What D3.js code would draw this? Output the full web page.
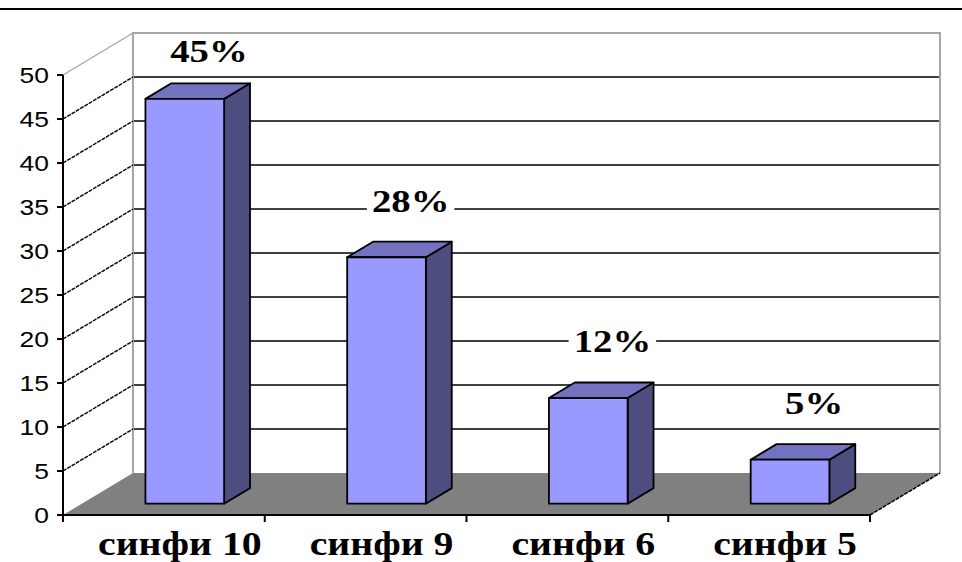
<!DOCTYPE html>
<html><head><meta charset="utf-8">
<script src="https://cdn.jsdelivr.net/npm/d3@7"></script>
<style>html,body{margin:0;padding:0;background:#fff;}svg{display:block;}</style>
</head><body>
<svg id="chart" width="962" height="562"></svg>
<script>
const categories = ["синфи 10", "синфи 9", "синфи 6", "синфи 5"];
const values = [46, 28, 12, 5];
const labelValues = [45, 28, 12, 5];
const yTicks = [0, 5, 10, 15, 20, 25, 30, 35, 40, 45, 50];

const W = 962, H = 562;
const svg = d3.select("#chart");

const y = d3.scaleLinear().domain([0, 50]).range([515, 75]);
const x = d3.scaleBand().domain(categories).range([63, 870]);
const D = {dx: 70, dy: -42};          // full depth offset
const fBar = 0.27, tBar = 0.37;       // bar front depth & thickness
const barW = x.bandwidth() * 0.39;
const barShift = 2;

const P = (px, py, f) => [px + D.dx * f, py + D.dy * f];

function fitText(stretch) {
  return sel => sel.each(function() {
    const w = this.getComputedTextLength();
    d3.select(this).attr("textLength", w * stretch).attr("lengthAdjust", "spacingAndGlyphs");
  });
}

// top border line
svg.append("line").attr("x1", 0).attr("x2", W).attr("y1", 9).attr("y2", 9)
  .attr("stroke", "#000").attr("stroke-width", 2);

const x0 = x.range()[0], x1 = x.range()[1];

// back wall gridlines
const back = svg.append("g");
yTicks.filter(t => t > 0 && t < 50).forEach(t => {
  const a = P(x0, y(t), 1), b = P(x1, y(t), 1);
  back.append("line").attr("x1", a[0]).attr("x2", b[0]).attr("y1", a[1]).attr("y2", b[1])
    .attr("stroke", "#000").attr("stroke-width", 1.6);
});
// back wall borders (grey)
{
  const tl = P(x0, y(50), 1), tr = P(x1, y(50), 1), bl = P(x0, y(0), 1), br = P(x1, y(0), 1);
  back.append("path").attr("d", `M${bl}L${tl}L${tr}L${br}`).attr("fill", "none")
    .attr("stroke", "#a6a6a6").attr("stroke-width", 2);
}
// left wall diagonals
yTicks.filter(t => t > 0).forEach(t => {
  const a = [x0, y(t)], b = P(x0, y(t), 1);
  back.append("line").attr("x1", a[0]).attr("x2", b[0]).attr("y1", a[1]).attr("y2", b[1])
    .attr("stroke", t === 50 ? "#a6a6a6" : "#000").attr("stroke-width", 1.4)
    .attr("stroke-dasharray", t === 50 ? null : "4,1");
});

// floor
{
  const fl = [x0, y(0)], fr = [x1, y(0)], bl = P(x0, y(0), 1), br = P(x1, y(0), 1);
  svg.append("path").attr("d", `M${fl}L${fr}L${br}L${bl}Z`).attr("fill", "#808080");
  svg.append("line").attr("x1", fr[0]).attr("y1", fr[1]).attr("x2", br[0]).attr("y2", br[1])
    .attr("stroke", "#000").attr("stroke-width", 1.5).attr("stroke-dasharray", "4,1");
}

// bars
const bars = svg.append("g");
categories.forEach((c, i) => {
  const cx = x(c) + x.bandwidth() / 2 + barShift;
  const l = cx - barW / 2, r = cx + barW / 2;
  const yt = y(values[i]), yb = y(0);
  const fTL = P(l, yt, fBar), fTR = P(r, yt, fBar), fBR = P(r, yb, fBar), fBL = P(l, yb, fBar);
  const bTL = P(l, yt, fBar + tBar), bTR = P(r, yt, fBar + tBar), bBR = P(r, yb, fBar + tBar);
  const st = {"stroke": "#000", "stroke-width": 1.8, "stroke-linejoin": "round"};
  const side = bars.append("path").attr("d", `M${fTR}L${bTR}L${bBR}L${fBR}Z`).attr("fill", "#4d4d80");
  const top = bars.append("path").attr("d", `M${fTL}L${fTR}L${bTR}L${bTL}Z`).attr("fill", "#7272c0");
  const front = bars.append("path").attr("d", `M${fTL}L${fTR}L${fBR}L${fBL}Z`).attr("fill", "#9999ff");
  [side, top, front].forEach(s => Object.entries(st).forEach(([k, v]) => s.attr(k, v)));
});

// axes
const axG = svg.append("g");
axG.append("line").attr("x1", x0).attr("x2", x0).attr("y1", y(50)).attr("y2", y(0))
  .attr("stroke", "#000").attr("stroke-width", 2);
axG.append("line").attr("x1", x0).attr("x2", x1).attr("y1", y(0)).attr("y2", y(0))
  .attr("stroke", "#000").attr("stroke-width", 2);
yTicks.forEach(t => {
  axG.append("line").attr("x1", x0 - 6).attr("x2", x0).attr("y1", y(t)).attr("y2", y(t))
    .attr("stroke", "#000").attr("stroke-width", 2);
});
const bounds = categories.map(c => x(c)).concat([x1]);
bounds.forEach(b => {
  axG.append("line").attr("x1", b).attr("x2", b).attr("y1", y(0)).attr("y2", y(0) + 7)
    .attr("stroke", "#000").attr("stroke-width", 2);
});

// y tick labels
svg.append("g").selectAll("text").data(yTicks).join("text")
  .attr("x", 49).attr("y", d => y(d) + 8)
  .attr("text-anchor", "end")
  .style("font-family", "'Liberation Sans', Arial, sans-serif")
  .style("font-size", "22px").attr("fill", "#000")
  .text(d => d).call(fitText(1.2));

// category labels
svg.append("g").selectAll("text").data(categories).join("text")
  .attr("x", d => x(d) + x.bandwidth() / 2 + 16).attr("y", 555)
  .attr("text-anchor", "middle")
  .style("font-family", "'Liberation Serif', 'Times New Roman', serif")
  .style("font-weight", "bold").style("font-size", "34px").attr("fill", "#000")
  .text(d => d).call(fitText(1.17));

// data labels with white background
const dl = svg.append("g");
categories.forEach((c, i) => {
  const cx = x(c) + x.bandwidth() / 2 + 45;
  const by = y(labelValues[i]) - 57;
  const g = dl.append("g");
  const rect = g.append("rect").attr("fill", "#fff");
  const t = g.append("text").attr("x", cx).attr("y", by).attr("text-anchor", "middle")
    .style("font-family", "'Liberation Serif', 'Times New Roman', serif")
    .style("font-weight", "bold").style("font-size", "31px").attr("fill", "#000")
    .text(labelValues[i] + "%").call(fitText(1.25));
  const bb = t.node().getBBox();
  rect.attr("x", bb.x - 5).attr("y", bb.y + 2).attr("width", bb.width + 10).attr("height", bb.height - 4);
});
</script>
</body></html>
